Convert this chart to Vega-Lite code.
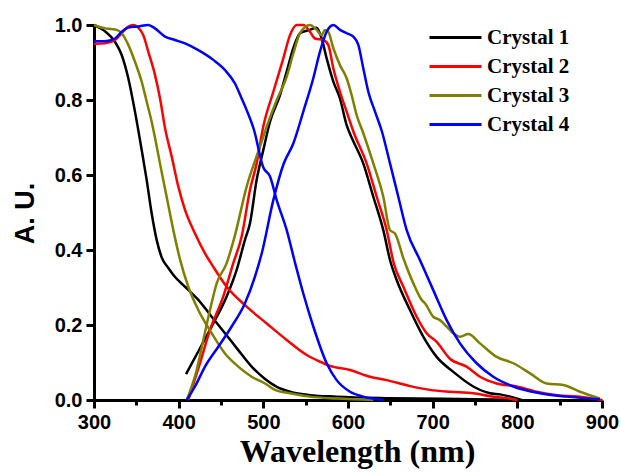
{
  "$schema": "https://vega.github.io/schema/vega-lite/v6.json",
  "width": 508,
  "height": 375,
  "autosize": {"type": "none"},
  "padding": {"left": 94, "top": 25, "right": 19, "bottom": 73},
  "background": "white",
  "config": {"view": {"stroke": null}},
  "data": {"values": [
    {"s":"Crystal 1","p":"abs","x":300,"y":1.0},
    {"s":"Crystal 1","p":"abs","x":312,"y":0.985},
    {"s":"Crystal 1","p":"abs","x":324.8,"y":0.955},
    {"s":"Crystal 1","p":"abs","x":332.7,"y":0.92},
    {"s":"Crystal 1","p":"abs","x":340.5,"y":0.858},
    {"s":"Crystal 1","p":"abs","x":348.4,"y":0.769},
    {"s":"Crystal 1","p":"abs","x":356.3,"y":0.667},
    {"s":"Crystal 1","p":"abs","x":362.2,"y":0.587},
    {"s":"Crystal 1","p":"abs","x":368.1,"y":0.498},
    {"s":"Crystal 1","p":"abs","x":374,"y":0.427},
    {"s":"Crystal 1","p":"abs","x":380,"y":0.38},
    {"s":"Crystal 1","p":"abs","x":387.8,"y":0.352},
    {"s":"Crystal 1","p":"abs","x":395,"y":0.33},
    {"s":"Crystal 1","p":"abs","x":407.5,"y":0.302},
    {"s":"Crystal 1","p":"abs","x":423.2,"y":0.267},
    {"s":"Crystal 1","p":"abs","x":439,"y":0.222},
    {"s":"Crystal 1","p":"abs","x":454.7,"y":0.178},
    {"s":"Crystal 1","p":"abs","x":470.4,"y":0.133},
    {"s":"Crystal 1","p":"abs","x":486.2,"y":0.089},
    {"s":"Crystal 1","p":"abs","x":502,"y":0.056},
    {"s":"Crystal 1","p":"abs","x":516,"y":0.035},
    {"s":"Crystal 1","p":"abs","x":531.5,"y":0.022},
    {"s":"Crystal 1","p":"abs","x":555,"y":0.013},
    {"s":"Crystal 1","p":"abs","x":586.6,"y":0.009},
    {"s":"Crystal 1","p":"abs","x":650,"y":0.005},
    {"s":"Crystal 1","p":"abs","x":750,"y":0.002},
    {"s":"Crystal 1","p":"abs","x":800,"y":0.0},
    {"s":"Crystal 1","p":"em","x":408.7,"y":0.069},
    {"s":"Crystal 1","p":"em","x":425.2,"y":0.138},
    {"s":"Crystal 1","p":"em","x":440.9,"y":0.204},
    {"s":"Crystal 1","p":"em","x":456.7,"y":0.276},
    {"s":"Crystal 1","p":"em","x":468.5,"y":0.347},
    {"s":"Crystal 1","p":"em","x":478.3,"y":0.427},
    {"s":"Crystal 1","p":"em","x":484.2,"y":0.471},
    {"s":"Crystal 1","p":"em","x":492.1,"y":0.587},
    {"s":"Crystal 1","p":"em","x":500,"y":0.667},
    {"s":"Crystal 1","p":"em","x":507.9,"y":0.742},
    {"s":"Crystal 1","p":"em","x":519.7,"y":0.813},
    {"s":"Crystal 1","p":"em","x":527.6,"y":0.876},
    {"s":"Crystal 1","p":"em","x":535.4,"y":0.938},
    {"s":"Crystal 1","p":"em","x":543.3,"y":0.978},
    {"s":"Crystal 1","p":"em","x":555.1,"y":0.987},
    {"s":"Crystal 1","p":"em","x":563,"y":0.993},
    {"s":"Crystal 1","p":"em","x":568.9,"y":0.964},
    {"s":"Crystal 1","p":"em","x":574.8,"y":0.911},
    {"s":"Crystal 1","p":"em","x":582.7,"y":0.849},
    {"s":"Crystal 1","p":"em","x":590.5,"y":0.804},
    {"s":"Crystal 1","p":"em","x":598.4,"y":0.733},
    {"s":"Crystal 1","p":"em","x":604.3,"y":0.7},
    {"s":"Crystal 1","p":"em","x":618,"y":0.631},
    {"s":"Crystal 1","p":"em","x":629.9,"y":0.542},
    {"s":"Crystal 1","p":"em","x":641.7,"y":0.453},
    {"s":"Crystal 1","p":"em","x":650,"y":0.37},
    {"s":"Crystal 1","p":"em","x":657.5,"y":0.32},
    {"s":"Crystal 1","p":"em","x":673.2,"y":0.24},
    {"s":"Crystal 1","p":"em","x":688.9,"y":0.169},
    {"s":"Crystal 1","p":"em","x":704.7,"y":0.115},
    {"s":"Crystal 1","p":"em","x":724.4,"y":0.075},
    {"s":"Crystal 1","p":"em","x":748,"y":0.036},
    {"s":"Crystal 1","p":"em","x":767.7,"y":0.018},
    {"s":"Crystal 1","p":"em","x":779.5,"y":0.015},
    {"s":"Crystal 1","p":"em","x":795,"y":0.007},
    {"s":"Crystal 1","p":"em","x":805,"y":0.0},

    {"s":"Crystal 2","p":"abs","x":300,"y":0.95},
    {"s":"Crystal 2","p":"abs","x":313,"y":0.951},
    {"s":"Crystal 2","p":"abs","x":324.8,"y":0.96},
    {"s":"Crystal 2","p":"abs","x":332.7,"y":0.978},
    {"s":"Crystal 2","p":"abs","x":340.5,"y":0.996},
    {"s":"Crystal 2","p":"abs","x":346.4,"y":1.0},
    {"s":"Crystal 2","p":"abs","x":352.3,"y":0.993},
    {"s":"Crystal 2","p":"abs","x":358.2,"y":0.973},
    {"s":"Crystal 2","p":"abs","x":364.1,"y":0.929},
    {"s":"Crystal 2","p":"abs","x":372,"y":0.867},
    {"s":"Crystal 2","p":"abs","x":378,"y":0.804},
    {"s":"Crystal 2","p":"abs","x":383.9,"y":0.725},
    {"s":"Crystal 2","p":"abs","x":391.8,"y":0.649},
    {"s":"Crystal 2","p":"abs","x":399.6,"y":0.569},
    {"s":"Crystal 2","p":"abs","x":407.5,"y":0.507},
    {"s":"Crystal 2","p":"abs","x":419.3,"y":0.444},
    {"s":"Crystal 2","p":"abs","x":431.1,"y":0.391},
    {"s":"Crystal 2","p":"abs","x":440.9,"y":0.355},
    {"s":"Crystal 2","p":"abs","x":456.7,"y":0.302},
    {"s":"Crystal 2","p":"abs","x":480.3,"y":0.249},
    {"s":"Crystal 2","p":"abs","x":504,"y":0.204},
    {"s":"Crystal 2","p":"abs","x":527.6,"y":0.16},
    {"s":"Crystal 2","p":"abs","x":551.2,"y":0.12},
    {"s":"Crystal 2","p":"abs","x":567,"y":0.102},
    {"s":"Crystal 2","p":"abs","x":578.7,"y":0.091},
    {"s":"Crystal 2","p":"abs","x":602.4,"y":0.08},
    {"s":"Crystal 2","p":"abs","x":626,"y":0.062},
    {"s":"Crystal 2","p":"abs","x":645.7,"y":0.053},
    {"s":"Crystal 2","p":"abs","x":673.2,"y":0.037},
    {"s":"Crystal 2","p":"abs","x":696.8,"y":0.027},
    {"s":"Crystal 2","p":"abs","x":720.4,"y":0.022},
    {"s":"Crystal 2","p":"abs","x":748,"y":0.018},
    {"s":"Crystal 2","p":"abs","x":767.7,"y":0.01},
    {"s":"Crystal 2","p":"abs","x":787,"y":0.005},
    {"s":"Crystal 2","p":"abs","x":800,"y":0.0},
    {"s":"Crystal 2","p":"em","x":411.4,"y":0.0},
    {"s":"Crystal 2","p":"em","x":425.2,"y":0.098},
    {"s":"Crystal 2","p":"em","x":437,"y":0.187},
    {"s":"Crystal 2","p":"em","x":452.7,"y":0.276},
    {"s":"Crystal 2","p":"em","x":464.5,"y":0.365},
    {"s":"Crystal 2","p":"em","x":474.4,"y":0.436},
    {"s":"Crystal 2","p":"em","x":484.2,"y":0.56},
    {"s":"Crystal 2","p":"em","x":492.1,"y":0.631},
    {"s":"Crystal 2","p":"em","x":500,"y":0.73},
    {"s":"Crystal 2","p":"em","x":511.8,"y":0.822},
    {"s":"Crystal 2","p":"em","x":523.6,"y":0.911},
    {"s":"Crystal 2","p":"em","x":531.5,"y":0.973},
    {"s":"Crystal 2","p":"em","x":539.4,"y":1.0},
    {"s":"Crystal 2","p":"em","x":547.2,"y":1.0},
    {"s":"Crystal 2","p":"em","x":555.1,"y":0.982},
    {"s":"Crystal 2","p":"em","x":561,"y":0.964},
    {"s":"Crystal 2","p":"em","x":570.8,"y":0.96},
    {"s":"Crystal 2","p":"em","x":576.7,"y":0.947},
    {"s":"Crystal 2","p":"em","x":582.7,"y":0.884},
    {"s":"Crystal 2","p":"em","x":590.5,"y":0.822},
    {"s":"Crystal 2","p":"em","x":598.4,"y":0.769},
    {"s":"Crystal 2","p":"em","x":607,"y":0.712},
    {"s":"Crystal 2","p":"em","x":622,"y":0.631},
    {"s":"Crystal 2","p":"em","x":633.9,"y":0.542},
    {"s":"Crystal 2","p":"em","x":645.7,"y":0.453},
    {"s":"Crystal 2","p":"em","x":654,"y":0.365},
    {"s":"Crystal 2","p":"em","x":665.4,"y":0.302},
    {"s":"Crystal 2","p":"em","x":681.1,"y":0.222},
    {"s":"Crystal 2","p":"em","x":692.9,"y":0.178},
    {"s":"Crystal 2","p":"em","x":704.7,"y":0.155},
    {"s":"Crystal 2","p":"em","x":720.4,"y":0.11},
    {"s":"Crystal 2","p":"em","x":740,"y":0.089},
    {"s":"Crystal 2","p":"em","x":755.9,"y":0.062},
    {"s":"Crystal 2","p":"em","x":775.6,"y":0.044},
    {"s":"Crystal 2","p":"em","x":799.2,"y":0.036},
    {"s":"Crystal 2","p":"em","x":822.8,"y":0.022},
    {"s":"Crystal 2","p":"em","x":846.5,"y":0.013},
    {"s":"Crystal 2","p":"em","x":874,"y":0.009},
    {"s":"Crystal 2","p":"em","x":899.6,"y":0.0},

    {"s":"Crystal 3","p":"abs","x":300,"y":1.0},
    {"s":"Crystal 3","p":"abs","x":313,"y":0.991},
    {"s":"Crystal 3","p":"abs","x":320.9,"y":0.989},
    {"s":"Crystal 3","p":"abs","x":326.8,"y":0.987},
    {"s":"Crystal 3","p":"abs","x":332.7,"y":0.978},
    {"s":"Crystal 3","p":"abs","x":340.5,"y":0.947},
    {"s":"Crystal 3","p":"abs","x":348.4,"y":0.902},
    {"s":"Crystal 3","p":"abs","x":356.3,"y":0.849},
    {"s":"Crystal 3","p":"abs","x":362.2,"y":0.796},
    {"s":"Crystal 3","p":"abs","x":368.1,"y":0.742},
    {"s":"Crystal 3","p":"abs","x":372,"y":0.7},
    {"s":"Crystal 3","p":"abs","x":377.9,"y":0.631},
    {"s":"Crystal 3","p":"abs","x":385.8,"y":0.542},
    {"s":"Crystal 3","p":"abs","x":393.7,"y":0.453},
    {"s":"Crystal 3","p":"abs","x":401.6,"y":0.375},
    {"s":"Crystal 3","p":"abs","x":411.4,"y":0.302},
    {"s":"Crystal 3","p":"abs","x":423.2,"y":0.24},
    {"s":"Crystal 3","p":"abs","x":439,"y":0.178},
    {"s":"Crystal 3","p":"abs","x":454.7,"y":0.124},
    {"s":"Crystal 3","p":"abs","x":470.4,"y":0.089},
    {"s":"Crystal 3","p":"abs","x":486.2,"y":0.062},
    {"s":"Crystal 3","p":"abs","x":502,"y":0.044},
    {"s":"Crystal 3","p":"abs","x":513.8,"y":0.027},
    {"s":"Crystal 3","p":"abs","x":531.5,"y":0.018},
    {"s":"Crystal 3","p":"abs","x":555,"y":0.009},
    {"s":"Crystal 3","p":"abs","x":586.6,"y":0.004},
    {"s":"Crystal 3","p":"abs","x":630,"y":0.0},
    {"s":"Crystal 3","p":"em","x":409.5,"y":0.0},
    {"s":"Crystal 3","p":"em","x":421.3,"y":0.08},
    {"s":"Crystal 3","p":"em","x":429.1,"y":0.16},
    {"s":"Crystal 3","p":"em","x":437,"y":0.24},
    {"s":"Crystal 3","p":"em","x":444.9,"y":0.311},
    {"s":"Crystal 3","p":"em","x":456.7,"y":0.365},
    {"s":"Crystal 3","p":"em","x":466,"y":0.435},
    {"s":"Crystal 3","p":"em","x":480.3,"y":0.569},
    {"s":"Crystal 3","p":"em","x":496.1,"y":0.676},
    {"s":"Crystal 3","p":"em","x":504,"y":0.729},
    {"s":"Crystal 3","p":"em","x":515.8,"y":0.8},
    {"s":"Crystal 3","p":"em","x":527.6,"y":0.862},
    {"s":"Crystal 3","p":"em","x":535.4,"y":0.924},
    {"s":"Crystal 3","p":"em","x":543.3,"y":0.978},
    {"s":"Crystal 3","p":"em","x":555.1,"y":1.0},
    {"s":"Crystal 3","p":"em","x":563,"y":0.987},
    {"s":"Crystal 3","p":"em","x":568.9,"y":0.973},
    {"s":"Crystal 3","p":"em","x":572.8,"y":0.987},
    {"s":"Crystal 3","p":"em","x":576.7,"y":0.982},
    {"s":"Crystal 3","p":"em","x":582.7,"y":0.938},
    {"s":"Crystal 3","p":"em","x":590.5,"y":0.893},
    {"s":"Crystal 3","p":"em","x":598.4,"y":0.858},
    {"s":"Crystal 3","p":"em","x":604.3,"y":0.813},
    {"s":"Crystal 3","p":"em","x":610.2,"y":0.76},
    {"s":"Crystal 3","p":"em","x":618,"y":0.712},
    {"s":"Crystal 3","p":"em","x":629.9,"y":0.631},
    {"s":"Crystal 3","p":"em","x":641.7,"y":0.542},
    {"s":"Crystal 3","p":"em","x":649.6,"y":0.453},
    {"s":"Crystal 3","p":"em","x":655.5,"y":0.444},
    {"s":"Crystal 3","p":"em","x":665.4,"y":0.378},
    {"s":"Crystal 3","p":"em","x":677.2,"y":0.311},
    {"s":"Crystal 3","p":"em","x":687,"y":0.267},
    {"s":"Crystal 3","p":"em","x":690.9,"y":0.258},
    {"s":"Crystal 3","p":"em","x":700.7,"y":0.222},
    {"s":"Crystal 3","p":"em","x":708.6,"y":0.213},
    {"s":"Crystal 3","p":"em","x":716.5,"y":0.196},
    {"s":"Crystal 3","p":"em","x":724.4,"y":0.178},
    {"s":"Crystal 3","p":"em","x":732.3,"y":0.169},
    {"s":"Crystal 3","p":"em","x":742.1,"y":0.176},
    {"s":"Crystal 3","p":"em","x":755.9,"y":0.151},
    {"s":"Crystal 3","p":"em","x":775.6,"y":0.115},
    {"s":"Crystal 3","p":"em","x":795.3,"y":0.098},
    {"s":"Crystal 3","p":"em","x":815,"y":0.071},
    {"s":"Crystal 3","p":"em","x":834.7,"y":0.044},
    {"s":"Crystal 3","p":"em","x":854.3,"y":0.04},
    {"s":"Crystal 3","p":"em","x":874,"y":0.022},
    {"s":"Crystal 3","p":"em","x":897.6,"y":0.004},

    {"s":"Crystal 4","p":"abs","x":300,"y":0.957},
    {"s":"Crystal 4","p":"abs","x":313,"y":0.957},
    {"s":"Crystal 4","p":"abs","x":324.8,"y":0.964},
    {"s":"Crystal 4","p":"abs","x":332.7,"y":0.982},
    {"s":"Crystal 4","p":"abs","x":340.5,"y":0.993},
    {"s":"Crystal 4","p":"abs","x":352.3,"y":0.996},
    {"s":"Crystal 4","p":"abs","x":364.1,"y":1.0},
    {"s":"Crystal 4","p":"abs","x":372,"y":0.991},
    {"s":"Crystal 4","p":"abs","x":383.9,"y":0.969},
    {"s":"Crystal 4","p":"abs","x":395.7,"y":0.96},
    {"s":"Crystal 4","p":"abs","x":407.5,"y":0.951},
    {"s":"Crystal 4","p":"abs","x":423.2,"y":0.933},
    {"s":"Crystal 4","p":"abs","x":440.9,"y":0.907},
    {"s":"Crystal 4","p":"abs","x":454.7,"y":0.88},
    {"s":"Crystal 4","p":"abs","x":466.5,"y":0.844},
    {"s":"Crystal 4","p":"abs","x":474.4,"y":0.804},
    {"s":"Crystal 4","p":"abs","x":480.3,"y":0.773},
    {"s":"Crystal 4","p":"abs","x":489,"y":0.72},
    {"s":"Crystal 4","p":"abs","x":500,"y":0.62},
    {"s":"Crystal 4","p":"abs","x":507.9,"y":0.596},
    {"s":"Crystal 4","p":"abs","x":515.8,"y":0.533},
    {"s":"Crystal 4","p":"abs","x":527.6,"y":0.453},
    {"s":"Crystal 4","p":"abs","x":537,"y":0.37},
    {"s":"Crystal 4","p":"abs","x":547.2,"y":0.284},
    {"s":"Crystal 4","p":"abs","x":559,"y":0.196},
    {"s":"Crystal 4","p":"abs","x":574.8,"y":0.098},
    {"s":"Crystal 4","p":"abs","x":586.6,"y":0.053},
    {"s":"Crystal 4","p":"abs","x":602.4,"y":0.022},
    {"s":"Crystal 4","p":"abs","x":618,"y":0.009},
    {"s":"Crystal 4","p":"abs","x":641.7,"y":0.0},
    {"s":"Crystal 4","p":"em","x":409.5,"y":0.0},
    {"s":"Crystal 4","p":"em","x":419.3,"y":0.036},
    {"s":"Crystal 4","p":"em","x":431.1,"y":0.089},
    {"s":"Crystal 4","p":"em","x":446.8,"y":0.142},
    {"s":"Crystal 4","p":"em","x":462.6,"y":0.196},
    {"s":"Crystal 4","p":"em","x":478.3,"y":0.258},
    {"s":"Crystal 4","p":"em","x":490.1,"y":0.329},
    {"s":"Crystal 4","p":"em","x":498,"y":0.39},
    {"s":"Crystal 4","p":"em","x":511.8,"y":0.533},
    {"s":"Crystal 4","p":"em","x":524,"y":0.63},
    {"s":"Crystal 4","p":"em","x":535.4,"y":0.684},
    {"s":"Crystal 4","p":"em","x":547.2,"y":0.769},
    {"s":"Crystal 4","p":"em","x":559,"y":0.858},
    {"s":"Crystal 4","p":"em","x":566.9,"y":0.929},
    {"s":"Crystal 4","p":"em","x":574.8,"y":0.982},
    {"s":"Crystal 4","p":"em","x":582.7,"y":1.0},
    {"s":"Crystal 4","p":"em","x":590.5,"y":0.987},
    {"s":"Crystal 4","p":"em","x":598.4,"y":0.978},
    {"s":"Crystal 4","p":"em","x":606.3,"y":0.969},
    {"s":"Crystal 4","p":"em","x":612.2,"y":0.947},
    {"s":"Crystal 4","p":"em","x":618.1,"y":0.884},
    {"s":"Crystal 4","p":"em","x":624,"y":0.822},
    {"s":"Crystal 4","p":"em","x":631.9,"y":0.769},
    {"s":"Crystal 4","p":"em","x":639.8,"y":0.718},
    {"s":"Crystal 4","p":"em","x":649.6,"y":0.631},
    {"s":"Crystal 4","p":"em","x":659.4,"y":0.542},
    {"s":"Crystal 4","p":"em","x":669.3,"y":0.453},
    {"s":"Crystal 4","p":"em","x":685,"y":0.373},
    {"s":"Crystal 4","p":"em","x":700.7,"y":0.293},
    {"s":"Crystal 4","p":"em","x":716.5,"y":0.213},
    {"s":"Crystal 4","p":"em","x":732.3,"y":0.151},
    {"s":"Crystal 4","p":"em","x":751.9,"y":0.098},
    {"s":"Crystal 4","p":"em","x":771.6,"y":0.062},
    {"s":"Crystal 4","p":"em","x":795.2,"y":0.036},
    {"s":"Crystal 4","p":"em","x":826.7,"y":0.018},
    {"s":"Crystal 4","p":"em","x":858.2,"y":0.009},
    {"s":"Crystal 4","p":"em","x":897.6,"y":0.002}
  ]},
  "mark": {"type": "line", "strokeWidth": 2.5, "interpolate": "monotone"},
  "encoding": {
    "x": {
      "field": "x", "type": "quantitative",
      "scale": {"domain": [300, 900], "nice": false, "zero": false},
      "axis": {
        "values": [300, 350, 400, 450, 500, 550, 600, 650, 700, 750, 800, 850, 900],
        "labelExpr": "datum.value % 100 === 0 ? datum.label : ''",
        "format": "d",
        "grid": false,
        "domainColor": "black", "domainWidth": 3,
        "tickColor": "black", "tickWidth": 3,
        "tickSize": {"condition": {"test": "datum.value % 100 === 0", "value": 8}, "value": 5},
        "labelFont": "Liberation Sans", "labelFontWeight": "bold", "labelFontSize": 20, "labelColor": "black",
        "labelPadding": 4,
        "labelFlush": false,
        "labelOverlap": false,
        "title": "Wavelength (nm)",
        "titleFont": "Liberation Serif", "titleFontWeight": "bold", "titleFontSize": 32, "titleColor": "black",
        "titleX": 263,
        "titlePadding": 4
      }
    },
    "y": {
      "field": "y", "type": "quantitative",
      "scale": {"domain": [0, 1.0], "nice": false},
      "axis": {
        "values": [0, 0.2, 0.4, 0.6, 0.8, 1.0],
        "format": ".1f",
        "grid": false,
        "domainColor": "black", "domainWidth": 3,
        "tickColor": "black", "tickWidth": 3, "tickSize": 8,
        "labelFont": "Liberation Sans", "labelFontWeight": "bold", "labelFontSize": 20, "labelColor": "black",
        "labelPadding": 4,
        "labelFlush": false,
        "title": "A. U.",
        "titleFont": "Liberation Sans", "titleFontWeight": "bold", "titleFontSize": 27, "titleColor": "black",
        "titleX": -69,
        "titleY": 188,
        "titleBaseline": "middle",
        "titleAlign": "center",
        "titleAngle": 270
      }
    },
    "color": {
      "field": "s", "type": "nominal",
      "scale": {"domain": ["Crystal 1", "Crystal 2", "Crystal 3", "Crystal 4"], "range": ["#000000", "#ff0000", "#808000", "#0000ff"]},
      "legend": {
        "title": null,
        "orient": "none",
        "legendX": 334,
        "legendY": -2,
        "symbolType": "stroke",
        "symbolSize": 2700,
        "symbolStrokeWidth": 3,
        "clipHeight": 29,
        "labelFont": "Liberation Serif", "labelFontWeight": "bold", "labelFontSize": 21, "labelColor": "black",
        "labelOffset": 4,
        "rowPadding": 0
      }
    },
    "detail": {"field": "p", "type": "nominal"}
  }
}
